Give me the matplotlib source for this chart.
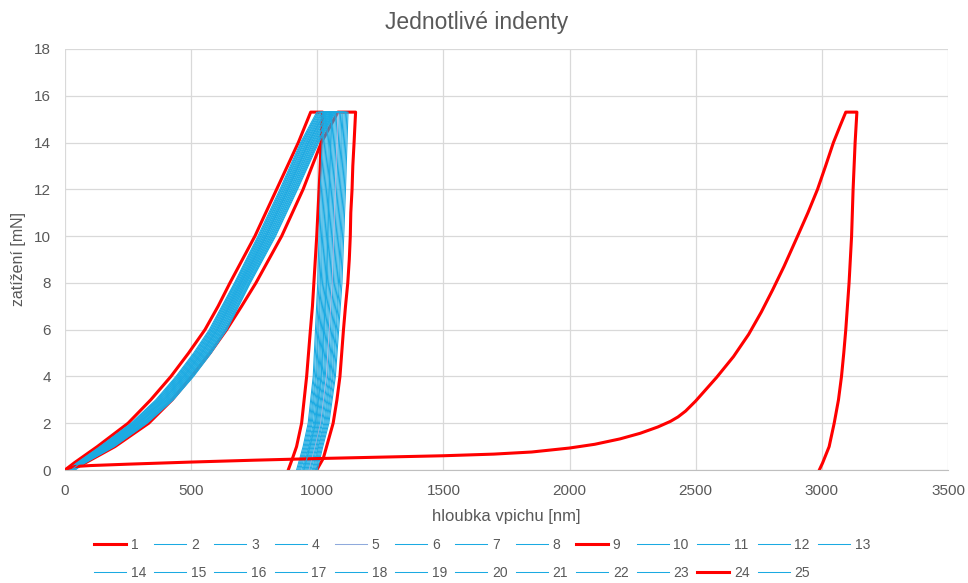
import matplotlib.pyplot as plt

plt.rcParams['font.family'] = ['Liberation Sans', 'DejaVu Sans']

# load levels [mN] shared by the regular indents: loading branch, then unloading branch
load_up = [0, 0.3, 1, 2, 3, 4, 5, 6, 8, 10, 12, 14, 15.3]
load_down = [15.3, 12, 8, 4, 2, 1, 0]

# depth [nm] at the load levels above, per indent (loading part, unloading part)
indents = {
    2: ([20, 56, 155, 281, 381, 461, 531, 593, 691, 786, 873, 956, 1020], [1058, 1047, 1036, 1015, 993, 971, 947]),
    3: ([27, 65, 170, 297, 399, 479, 549, 611, 707, 804, 891, 974, 1039], [1073, 1062, 1050, 1028, 1005, 983, 959]),
    4: ([16, 51, 147, 272, 371, 451, 521, 583, 681, 776, 863, 945, 1009], [1044, 1032, 1021, 1002, 980, 960, 934]),
    5: ([25, 61, 164, 291, 392, 472, 542, 604, 700, 797, 884, 966, 1031], [1083, 1072, 1060, 1037, 1013, 991, 967]),
    6: ([32, 70, 179, 307, 409, 489, 559, 621, 716, 814, 901, 984, 1050], [1088, 1077, 1064, 1041, 1017, 995, 971]),
    7: ([13, 48, 141, 265, 364, 444, 514, 576, 675, 769, 856, 938, 1002], [1034, 1022, 1012, 993, 972, 952, 926]),
    8: ([36, 75, 187, 316, 420, 500, 570, 632, 726, 825, 912, 995, 1061], [1102, 1092, 1079, 1054, 1030, 1006, 984]),
    10: ([22, 58, 158, 284, 385, 465, 535, 597, 694, 790, 877, 959, 1024], [1049, 1037, 1026, 1006, 985, 964, 939]),
    11: ([29, 66, 173, 300, 402, 482, 552, 614, 710, 807, 894, 977, 1042], [1093, 1082, 1069, 1046, 1021, 999, 975]),
    12: ([18, 53, 150, 275, 374, 454, 524, 586, 685, 779, 866, 948, 1013], [1053, 1042, 1031, 1010, 989, 967, 943]),
    13: ([39, 78, 193, 323, 427, 507, 577, 639, 732, 832, 919, 1002, 1068], [1117, 1107, 1093, 1068, 1042, 1018, 996]),
    14: ([23, 60, 161, 288, 388, 468, 538, 600, 697, 793, 880, 963, 1028], [1068, 1057, 1045, 1024, 1001, 979, 955]),
    15: ([33, 72, 182, 310, 413, 493, 563, 625, 719, 818, 905, 988, 1054], [1107, 1097, 1084, 1059, 1034, 1010, 988]),
    16: ([15, 49, 144, 268, 367, 447, 517, 579, 678, 772, 859, 941, 1005], [1029, 1017, 1007, 988, 968, 948, 922]),
    17: ([26, 63, 167, 294, 395, 475, 545, 607, 704, 800, 887, 970, 1035], [1063, 1052, 1040, 1019, 997, 975, 951]),
    18: ([30, 68, 176, 304, 406, 486, 556, 618, 713, 811, 898, 981, 1046], [1078, 1067, 1055, 1032, 1009, 987, 963]),
    19: ([19, 55, 153, 278, 378, 458, 528, 590, 688, 783, 870, 952, 1017], [1039, 1027, 1016, 997, 976, 956, 930]),
    20: ([37, 77, 190, 320, 423, 503, 573, 635, 729, 828, 915, 999, 1065], [1122, 1112, 1098, 1072, 1046, 1022, 1000]),
    21: ([34, 73, 184, 313, 416, 496, 566, 628, 722, 821, 908, 992, 1057], [1098, 1087, 1074, 1050, 1026, 1003, 980]),
    22: ([12, 46, 138, 262, 360, 440, 510, 572, 672, 765, 852, 934, 998], [1024, 1012, 1002, 984, 964, 944, 918]),
    23: ([40, 80, 196, 326, 430, 510, 580, 642, 735, 835, 922, 1006, 1072], [1112, 1102, 1088, 1063, 1038, 1014, 992]),
    25: ([25, 61, 164, 291, 392, 472, 542, 604, 700, 797, 884, 966, 1031], [1058, 1047, 1036, 1015, 993, 971, 947]),
}

# the outlying indents have their own sampling
ind1_depth = [20, 80, 198, 332, 425, 502, 575, 641, 700, 757, 859, 944, 1016, 1082,
              1152, 1146, 1141, 1138, 1133, 1131, 1127, 1121, 1112, 1104, 1097, 1090, 1078, 1063, 1037, 1024, 998]
ind1_load = [0, 0.3, 1, 2, 3, 4, 5, 6, 7, 8, 10, 12, 14, 15.3,
             15.3, 14, 13, 12, 11, 10, 9, 8, 7, 6, 5, 4, 3, 2, 1, 0.5, 0]

ind9_depth = [0, 36, 128, 250, 340, 420, 490, 555, 607, 654, 753, 839, 925, 974,
              1021, 1015, 1011, 998, 981, 973, 958, 938, 918, 902, 885]
ind9_load = [0, 0.3, 1, 2, 3, 4, 5, 6, 7, 8, 10, 12, 14, 15.3,
             15.3, 14, 12.8, 10, 7, 6, 4, 2, 1, 0.5, 0]

ind24_depth = [0, 15, 40, 100, 250, 500, 750, 1000, 1250, 1500, 1700, 1850, 2000, 2100, 2200, 2280,
               2350, 2400, 2430, 2460, 2500, 2583, 2650, 2710, 2760, 2805, 2850, 2904, 2945, 2983, 3015,
               3046, 3072, 3095,
               3139, 3132, 3124, 3118, 3108, 3095, 3087, 3078, 3066, 3049, 3029, 3003, 2990]
ind24_load = [0, 0.08, 0.15, 0.19, 0.25, 0.34, 0.42, 0.49, 0.55, 0.61, 0.68, 0.77, 0.94, 1.1, 1.33, 1.57,
              1.84, 2.08, 2.27, 2.52, 2.95, 3.96, 4.85, 5.8, 6.75, 7.7, 8.7, 10, 11, 12, 13,
              14, 14.7, 15.3,
              15.3, 14, 12, 10, 8, 6, 5, 4, 3, 2, 1, 0.3, 0]

red = '#FF0000'
blue = '#1AAAE2'
grey_text = '#595959'

fig = plt.figure(figsize=(9.68, 5.83), dpi=100)
ax = fig.add_axes([0.0671, 0.1938, 0.9122, 0.7222])

lines = {}
for n in range(1, 26):
    if n == 1:
        x, y, c, lw = ind1_depth, ind1_load, red, 2.2
    elif n == 9:
        x, y, c, lw = ind9_depth, ind9_load, red, 2.2
    elif n == 24:
        x, y, c, lw = ind24_depth, ind24_load, red, 2.2
    else:
        up, down = indents[n]
        x, y = up + down, load_up + load_down
        c = '#8FAADC' if n == 5 else blue
        lw = 0.75
    lines[n] = ax.plot(x, y, color=c, linewidth=lw, solid_joinstyle='round')[0]

ax.set_xlim(0, 3500)
ax.set_ylim(0, 18)
ax.set_xticks(range(0, 3501, 500))
ax.set_yticks(range(0, 19, 2))
ax.grid(True, color='#D9D9D9', linewidth=0.9)
ax.set_axisbelow(True)
for s in ['top', 'right', 'left']:
    ax.spines[s].set_visible(False)
ax.spines['bottom'].set_color('#BFBFBF')
ax.tick_params(length=0, labelsize=11, labelcolor=grey_text, pad=10)

ax.set_xlabel('hloubka vpichu [nm]', fontsize=12, color=grey_text, labelpad=8)
ax.set_ylabel('zatížení [mN]', fontsize=11.5, color=grey_text, labelpad=6)
fig.text(0.492, 0.962, 'Jednotlivé indenty', fontsize=16.5, color=grey_text, ha='center', va='center')

# two legend rows: 1-13 on top, 14-25 below
order = []
for c in range(12):
    order += [c + 1, c + 14]
order.append(13)
leg = fig.legend([lines[n] for n in order], [str(n) for n in order], ncol=13,
                 loc='center left', bbox_to_anchor=(0.097, 0.0412), frameon=False,
                 fontsize=10, handlelength=2.3, handletextpad=0.35, columnspacing=0.58,
                 labelspacing=1.0, borderpad=0, borderaxespad=0)
for t in leg.get_texts():
    t.set_color(grey_text)

fig.savefig('out.png', dpi=100)
